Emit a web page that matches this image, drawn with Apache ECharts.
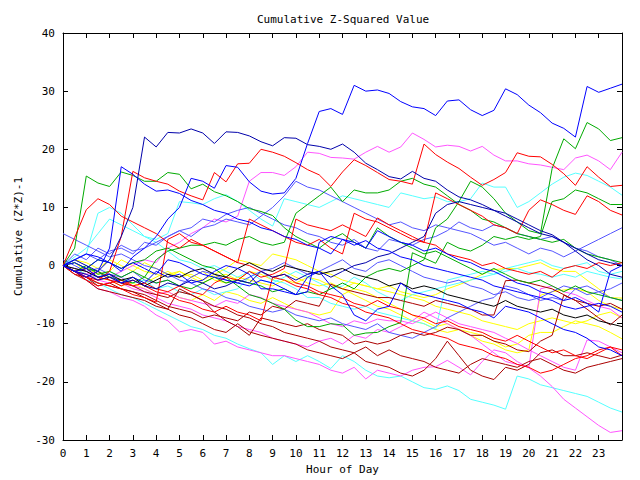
<!DOCTYPE html>
<html><head><meta charset="utf-8">
<script src="https://cdn.jsdelivr.net/npm/echarts@6/dist/echarts.min.js"></script>
<style>html,body{margin:0;padding:0;background:#fff}#c{width:640px;height:480px}</style>
</head><body><div id="c"></div>
<script>
const hours = [0,0.5,1,1.5,2,2.5,3,3.5,4,4.5,5,5.5,6,6.5,7,7.5,8,8.5,9,9.5,10,10.5,11,11.5,12,12.5,13,13.5,14,14.5,15,15.5,16,16.5,17,17.5,18,18.5,19,19.5,20,20.5,21,21.5,22,22.5,23,23.5,24];
const xTickLabels = ['0','1','2','3','4','5','6','7','8','9','10','11','12','13','14','15','16','17','18','19','20','21','22','23'];
const yTicks = [-30,-20,-10,0,10,20,30,40];

const blue1 = [0,0.5,-0.5,1,0.5,-1,1.5,3,5,8,10,15,14.5,13.3,17.2,16.9,14.4,12.8,12.3,12.5,15,21,26.5,27,26,31,30,30.2,29.6,28.2,27.3,27,25.8,28.3,28.5,26.8,25.8,26.7,30.4,29.4,27.6,26.3,24.5,23.6,22.1,30.8,29.8,30.5,31.2];
const navy1 = [0,1,0,-1,1,5,10,22.1,20.4,22.9,22.8,23.5,22.8,21,23,22.9,22.3,21.3,20.6,22,21.9,20.8,20.5,20,20.9,19.5,17.6,16.5,15.3,14.9,16.2,15,14.5,13,11.8,11.3,10.5,9.5,8.5,7.5,6.5,5.5,5,4,3,2,1,0.5,0];
const red1 = [0,-1,-2,-2.5,-1,5,16.2,15.1,14.5,14,12.8,12,11.3,16,14.4,17.5,17.6,20,19.5,18.8,17.7,16.5,15.6,13.6,16.1,18.2,17.2,16,14.8,14.5,14,20.9,19.1,17.8,16.7,15.2,13.8,14.8,16,19.4,18.8,18.7,17.4,15.8,13.8,17,15.2,13.6,13.8];
const mag1 = [0,-1,-1.5,-1,-2,-1,0,1,0.5,3,4,5.5,6.5,8,7.5,8.5,14.5,16,16,15.5,17,19.5,19.3,18.6,18.5,18.3,19.5,20.5,19.5,20.4,22.8,21.7,20.4,20.7,20.5,19.7,20.5,19,18,18,17.5,17.3,16.9,16.5,18.5,19,18,16.5,19.5];
const green1 = [0,3,15.4,14.2,13.6,16.1,15.5,14.5,14.5,16,15.7,13.2,14,12.7,12,11,9.8,9.3,8.6,6.5,5,4,3,4.5,5.5,4,3,6.5,5,4,3,2,2.5,1.5,0.5,-0.5,-1.5,-0.5,-1.5,-2.5,-3,-2.5,-3.5,-4.5,-3.5,-4.5,-5,-5.5,-6];
const green2 = [0,-1,0,-1.5,-1,-2,-1,-2,1,2.5,3,3.5,3.5,4,3.5,4.5,5,4,3.5,4,9,10.5,12,13.5,11,13,12.5,12.5,13,14.5,15,14,13.5,12,10.5,9.5,8,7.5,6.5,5.5,5,4.5,4,4.5,3,2,1.5,1,0.5];
const green3 = [0,0.5,-0.5,-1,-2,-2.5,-3,-2,-3,-2.5,-3.5,-4,-3,-2,-3,-2.5,-3,-3.5,-4.5,-4,-5,-4.5,-5,-4,-3,-4,-2,-1,-0.5,-1,0,1,6.5,8,11,14.5,13.5,11.5,9,7.5,6,5.5,16.7,21.8,20.1,24.6,23.5,21.5,22];
const green4 = [0,-1,-0.5,1,0.5,-0.5,0.5,1,2.5,3,2,1,0,-0.5,-2,-3.5,-5,-5.6,-6.5,-7.5,-9.4,-10.5,-10.5,-10,-10.2,-12,-11.6,-11.5,-10.5,-9.8,2.2,1.3,0.4,4,3,2.5,3.5,5,4.5,5,4.5,5,11,11.5,13,12.5,11.5,10.5,10.5];
const cyan1 = [0,1.5,3,5.5,8,7,6,5,4.5,5.5,11,10.8,10.5,11.5,12.2,11,9.5,8,6.8,11.5,11,10.5,10,11,12,11.5,11,10.5,10,12.5,12,11.5,11.8,11,11,11.5,14.2,13.5,13.5,10,11,12.5,14,15.2,15.9,15.5,14.5,13.5,12.1];
const cyan2 = [0,1,2,9,10,9,7,5,4,2.5,1,0.5,-0.5,0,-1,-2,-1,-2.5,-3,-2,-1,-2,-3,-4,-3.5,-2,-3,-4.5,-5.5,-6,-5,-4.5,-4,-3.5,-3,-2.5,-2,-1.5,-0.5,0,0.5,1,0,-0.5,0,0.5,-1,-1.5,-1];
const cyan3 = [0,-0.5,-1.5,-2,-1,-2,-3,-2.5,-4,-3.5,-4.5,-5,-4,-5,-4.5,-4,-2,-1,-2.5,-3,-4,-5.5,-5.5,-6.5,-7,-7.5,-7,-8,-8.5,-9,-9.5,-10,-10.9,-2.5,-2,-1.5,-1,-1.5,-1,-0.5,-1.2,-1.5,-2,-1.5,-2,-1,-1.5,-2,-2.3];
const cyan4 = [0,-1.5,-2.5,-3,-4,-5,-5.5,-6.5,-7.5,-8.5,-9.5,-10.5,-11,-12,-12.5,-13.5,-14.3,-15,-17,-15.5,-16.5,-15.5,-16.5,-17.7,-15.5,-16.5,-18,-19,-19.3,-19,-20,-21,-21.3,-20.7,-21.5,-23,-23.5,-24,-24.7,-19,-19.5,-20.5,-21,-21.5,-22,-22.5,-23.5,-24.5,-25.2];
const mag2 = [0,-1,-2.5,-4,-4.5,-5.5,-6,-7,-8.5,-9.5,-11.4,-11,-11.5,-13.5,-13,-14,-14.5,-15,-15.5,-15.5,-16,-16.5,-17,-18,-18.5,-17.5,-19.5,-18,-18.5,-19,-18,-17.5,-17.4,-16.3,-17.5,-18.8,-16.5,-14.5,-15,-16.5,-17.6,-19,-20.8,-23,-24.5,-26,-27.5,-28.7,-28.4];
const mag3 = [0,-0.5,-1,-2.5,-3,-2,-3.5,-4,-5,-4.5,-5.5,-6,-6.5,-7,-6,-6.5,-5,-5.5,-6.5,-7,-7.5,-8,-9,-10,-10.5,-9.5,-10,-9.2,-9.5,-9.5,-10,-9,-8,-9,-10,-10.5,-11,-11.5,-12.5,-13.4,-14.5,-15.5,-16.5,-17.5,-18,-12.8,-13,-14,-15];
const mag4 = [0,-1,-1.5,-2.5,-2,-3,-4,-4.5,-5.5,-6.5,-7,-7.5,-8.5,-9,-9.5,-10.5,-11,-11.5,-12.5,-13,-13.5,-14,-13,-12.5,-13.5,-12,-12.5,-11,-11.5,-10.5,-9.5,-8,-9,-10,-11,-12,-13.5,-15,-16.5,-17,-17.5,-4,-3.5,-4.5,-5,-6,-7,-7.5,-9];
const yel1 = [0,-1,-0.5,-1.5,-1,1,0,-1,-1.5,-2,-1,-2,-3,-2,-1.5,-2.5,-1,-1.5,-2.5,-1,-2,-3,-3.5,-3,-4,-5,-6,-7,-7.5,-8.5,-9.5,-10,-11,-11.5,-11,-12,-13,-13.5,-14.5,-15,-14.5,-5.1,-4.5,-4.2,-4,-4.5,-6,-7,-7.5];
const yel2 = [0,0.5,-1,-2,-2.5,-3.5,-3,-4,-5,-4.5,-5.5,-6,-5,-6,-4.5,-5,-6,-6.5,-5.5,-6.5,-7.5,-8,-8.5,-8,-5,-4,-4.5,-5.5,-6.5,-7.5,-8.5,-9.5,-10.5,-10,-11,-11.5,-12,-13,-14,-13.5,-12,-11.5,-11.5,-10.5,-9.5,-10,-10.5,-11.5,-12.6];
const yel3 = [0,1,0.5,-0.5,1,0,-1,0.5,-0.5,-1.5,-1,-2,-1,-2.5,-3,-2,-2.5,-3,-3.5,-2.5,-3,-2,-2.5,-3.5,-4,-3,-3.5,-4,-3.5,-4.5,-5,-5.5,-5,-4,-3.3,-2.5,-1.5,-0.7,-0.5,-0.5,0,0.5,-0.5,-1,-1,-2.5,-4,-5.5,-5.6];
const yel4 = [0,-0.5,-1.5,-2.5,-2,-3,-2,-3,-2,-1,-2,-1.5,-2.5,-1.5,-0.5,1,0.5,0,2,1.5,1,0,-1,-1.5,-2.5,-3,-3.5,-4,-4.5,-5,-5.5,-6,-7,-7.5,-8,-8.5,-9.5,-10,-10.5,-11,-10,-9.5,-9,-9.5,-10,-9.5,-8.5,-8,-9];
const dred1 = [0,-1,-2.5,-4,-4.5,-5,-5.5,-6,-7,-7.5,-8.5,-9,-10,-11,-11.5,-10,-11.4,-12,-12.5,-13,-13.5,-14.5,-15,-15.5,-16,-15,-16.5,-17,-17.5,-18.5,-19,-18,-16,-13,-15.5,-18,-19,-19.6,-17.5,-18,-17,-15,-14.5,-15.5,-15.5,-15,-15.5,-16,-15.4];
const dred2 = [0,-1.5,-2,-3,-3.5,-4,-4.5,-5.5,-6.5,-7.5,-4,-5,-6,-8,-9.5,-10.5,-12,-9,-9.5,-10,-10.5,-10,-11,-11.5,-12,-13.5,-13,-13.5,-13,-12,-11.5,-12,-11.5,-10.6,-11,-12,-12,-13,-13.5,-14.5,-14.8,-13,-12,-5.1,-6,-7.5,-9,-10.2,-8.5];
const dred3 = [0,-1,-2,-3.5,-3,-4,-4.5,-5,-6,-7,-7.5,-8,-9,-8.5,-9,-9.5,-8,-8.5,-7,-7.5,-6,-6.5,-7,-3.2,-4,-4.5,-5,-5.5,-5.5,-6,-6.5,-7,-6,-6.5,-7,-7.5,-8.5,-8.5,-2.6,-2.5,-3,-3.5,-4,-5,-6,-6.5,-7,-6.5,-7.5];
const dred4 = [0,-1,-2,-1,-2.5,-3,-3.5,-4.5,-5,-5.5,-4.5,-5,-6,-7,-7.5,-8.5,-9,-10,-10.5,-11.5,-12,-12.5,-13,-14,-14.5,-15,-14,-15.5,-14.5,-15.5,-16,-16.5,-17.5,-18,-18.5,-17,-16,-16.5,-17,-17.5,-16.5,-16,-17,-18,-18.5,-17.5,-17,-16.5,-16];
const red2 = [0,4.8,9.6,11.5,10.5,8.5,7.5,6.5,5.5,4,3,4.5,3.5,2.5,1.5,0.5,0,-1,-2,-1.5,-3,-3.5,-4.5,-5,-5.5,-6.5,-7,-6,-7,-7.5,-8.5,-9,-10,-9.5,-10.5,-11,-11.5,-12.5,-13,-12,-13,-14,-15,-14.5,-15.5,-16,-15,-14,-14.5];
const red3 = [0,-1,-2,-3,-3.5,-4,-5,-5.5,-6.3,4.5,5.5,4,3.5,2.5,1.5,0.5,8,7,6,5,4,3.5,4.5,3,2,9,8,7.5,6.5,5.5,4.5,4,3.5,2,1.5,1,0,0.5,-0.5,-1,-1.5,-1,-2,-0.5,0,-0.5,0.5,0,0.5];
const red4 = [0,-1.5,-2.5,-3.5,-3,-2.5,-3.5,-3,-4,-4.5,-3.5,-4.5,-5,-3,-2,-2.5,-1,-2,-1.5,-0.5,8,7,6.5,6,7,6,5,8.2,7,6,5,4,12.5,11.5,10.5,9.5,8.5,7,6.5,5.5,9.5,11.3,10.5,9.5,8.8,12,11,9.5,8.7];
const red5 = [0,-1,-0.5,-2,-2.5,-3.5,-2.5,-3.5,-4.5,-5,-6,-6.5,-7.5,-8,-7,-8,-8.5,-9.5,-2,-2.5,-3.5,-4,-5,-5.5,-6.5,-7,-8,-8.5,-9,-10,-11,-11.5,-12,-12.5,-13.5,-14,-14.5,-15.5,-16,-17,-17.5,-18.5,-18,-17,-16,-15.5,-14.5,-14,-15.5];
const slate1 = [5.5,4.5,3.5,2.5,1.5,2,1,0,-0.5,-1.5,-2.5,-3,-4,-4.5,-5.5,-6,-7,-7.5,-8,-7.5,-8.5,-9,-9.5,-9,-10,-10.5,-11,-10,-11.5,-12,-12.5,-11.5,-10.5,-9,-8,-7,-6,-5.5,-3.5,-4,-5,-6,-5.5,-6,-4,-3.5,-4.5,-4,-3];
const slate2 = [0,1,2,1,2.5,3,2,4,3.5,5,6,5,6.5,7,8,7.5,7,8.5,10,12,14.5,13.5,13,12,11,10,9,8,7,7.5,6.5,6,7,6.5,6,5.5,4.5,3.5,4,3,2,3,2.5,1.5,2.5,3.5,4.5,5.5,6.5];
const slate3 = [0,2,1,3,2,3.5,2.5,3,4,5,6,6.5,8,7.5,8.8,9.5,10,9,8,7,6.5,5.5,5,4,3.5,4.5,3,2.5,4.5,4,3.5,4.5,5,6,7.5,6.5,6,7,6.5,5.5,5,4.5,5,4,3,2.5,1.5,1,0];
const slate4 = [1,0,-1,-0.5,-1.5,-2,-1,-2.5,-3,-2.5,-3.5,-2,-1,-1.5,-2.5,-3,-2,-1,-0.5,0.5,-0.5,-1.5,-1,0,1,-0.5,-1,0.5,1,0,-1,-2,-2.5,-3,-2.5,-3.5,-4,-5,-4.5,-5.5,-6,-5.5,-4.5,-3.5,-4,-5,-4.5,-5.5,-6];
const blue2 = [0,-1,-2,-1,3,17,15.7,14,12.8,13,12.4,11.2,10.5,9.5,9,8,7.5,6.5,6,5,4.5,3.5,3,2,4.5,4,3,6,5,4,3.5,2.5,3,2,1,0.5,-0.5,-1,-2,-3,-3.5,-4.5,-5,-6,-5.5,-6.5,-8,-1,0];
const blue3 = [0,-1,-0.5,-2,-1.5,-3,-2,-3,-1,-2,-1.5,-3,-2.5,-1,0,-0.5,-1.5,-4,-4,-4.5,-5,-2,-1,-3.5,-5,-8.5,-9.5,-7.5,-7,-3,-4.5,-5,-5.5,-6,-6.5,-7.5,-8,-9,-7,-7.5,-8,-9,-10,-11,-11.5,-12.5,-14,-14.5,-15.5];
const blue4 = [0,1,2,1.5,0.5,-0.5,0.5,-0.5,-1.5,1,0.5,-0.5,-1.5,-2,-2.5,-3,-3.5,-2.5,-3,-4,-5,-4.5,4,5,4.5,3.5,4.3,3,2.5,1.5,1,0,-0.5,-1,-1.5,-2,-2.5,-3.5,-4,-4.5,-5,-5.5,-6,-7,-7.5,-7,-6.5,-7,-8];
const navy2 = [0,-1,-1.5,-2.5,-2,-3,-2.5,-3.5,-4,-3,-3.5,-2.5,-3,-4,-3.5,-2.5,-3,-1,-2,-1.5,-2.5,-1.5,-1,-2,-1,0,0.5,1.5,2,3,4,5,9,10.5,11,10.5,10,9.5,9,8,7,6,5.3,4,2.5,1,0,-1.5,-2];
const black1 = [0,-0.5,-1,-2,-1.5,-2.5,-2,-3.5,-2.5,-1.5,-2,-1,-0.5,-1.5,-2,-0.5,0.5,-0.5,-1,0,-0.5,-1,-1.5,-1,-0.5,-1.5,-2,-2.5,-3.5,-3,-4,-3.5,-4,-5,-5.5,-6,-6.5,-7,-6,-7,-7.5,-8,-7.5,-8.5,-9,-8.5,-9.5,-10,-10.5];

const seriesList = [
  ['yel1', yel1, '#ffff00'], ['yel2', yel2, '#ffff00'], ['yel3', yel3, '#ffff00'], ['yel4', yel4, '#ffff00'],
  ['cyan1', cyan1, '#55ffff'], ['cyan2', cyan2, '#55ffff'], ['cyan3', cyan3, '#55ffff'], ['cyan4', cyan4, '#55ffff'],
  ['mag1', mag1, '#ff55ff'], ['mag2', mag2, '#ff55ff'], ['mag3', mag3, '#ff55ff'], ['mag4', mag4, '#ff55ff'],
  ['slate1', slate1, '#5555ff'], ['slate2', slate2, '#5555ff'], ['slate3', slate3, '#5555ff'], ['slate4', slate4, '#5555ff'],
  ['dred1', dred1, '#aa0000'], ['dred2', dred2, '#aa0000'], ['dred3', dred3, '#aa0000'], ['dred4', dred4, '#aa0000'],
  ['green1', green1, '#00aa00'], ['green2', green2, '#00aa00'], ['green3', green3, '#00aa00'], ['green4', green4, '#00aa00'],
  ['red1', red1, '#ff0000'], ['red2', red2, '#ff0000'], ['red3', red3, '#ff0000'], ['red4', red4, '#ff0000'], ['red5', red5, '#ff0000'],
  ['black1', black1, '#000000'],
  ['navy1', navy1, '#0000aa'], ['navy2', navy2, '#0000aa'],
  ['blue2', blue2, '#0000ff'], ['blue3', blue3, '#0000ff'], ['blue4', blue4, '#0000ff'], ['blue1', blue1, '#0000ff']
];

const FONT = 'DejaVu Sans Mono';
const chart = echarts.init(document.getElementById('c'), null, {renderer: 'svg'});
const axisCommon = {
  type: 'value', splitLine: {show: false},
  axisLine: {show: true, onZero: false, lineStyle: {color: '#000', width: 1}},
  axisTick: {show: true, inside: true, length: 5, lineStyle: {color: '#000'}},
  nameTextStyle: {color: '#000', fontFamily: FONT, fontSize: 11}
};
chart.setOption({
  animation: false,
  backgroundColor: '#fff',
  title: {text: 'Cumulative Z-Squared Value', left: 252, top: 9,
    textStyle: {color: '#000', fontFamily: FONT, fontSize: 11, fontWeight: 'normal'}},
  grid: {left: 63, right: 18, top: 33, bottom: 36, containLabel: false},
  xAxis: [
    Object.assign({}, axisCommon, {min: 0, max: 24, interval: 1, position: 'bottom',
      name: 'Hour of Day', nameLocation: 'middle', nameGap: 24,
      axisLabel: {color: '#000', fontFamily: FONT, fontSize: 11, margin: 8,
        formatter: v => (v >= 0 && v < xTickLabels.length ? xTickLabels[v] : '')}}),
    Object.assign({}, axisCommon, {min: 0, max: 24, interval: 1, position: 'top', axisLabel: {show: false}})
  ],
  yAxis: [
    Object.assign({}, axisCommon, {min: yTicks[0], max: yTicks[yTicks.length-1], interval: 10, position: 'left',
      name: 'Cumulative (Z*Z)-1', nameLocation: 'middle', nameGap: 38, nameRotate: 90,
      axisLabel: {color: '#000', fontFamily: FONT, fontSize: 11, margin: 8}}),
    Object.assign({}, axisCommon, {min: yTicks[0], max: yTicks[yTicks.length-1], interval: 10, position: 'right', axisLabel: {show: false}})
  ],
  series: seriesList.map(([name, vals, color]) => ({
    name: name, type: 'line', xAxisIndex: 0, yAxisIndex: 0,
    data: hours.map((h, i) => [h, vals[i]]),
    showSymbol: false, symbol: 'none', silent: true,
    lineStyle: {color: color, width: 1}, itemStyle: {color: color}
  }))
});
</script></body></html>
